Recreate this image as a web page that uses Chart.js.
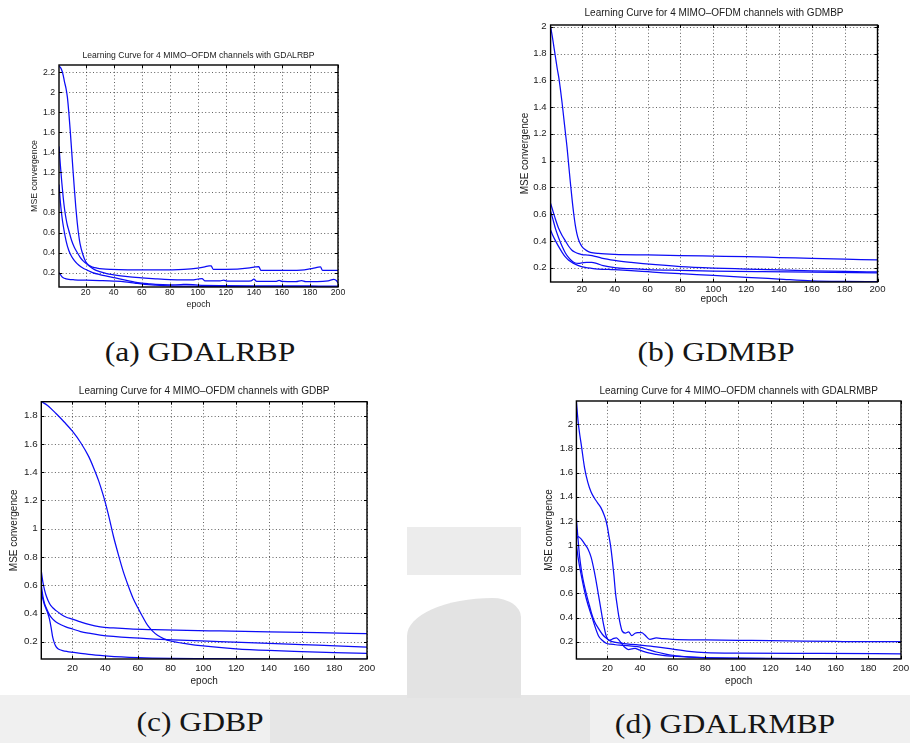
<!DOCTYPE html>
<html><head><meta charset="utf-8">
<script src="https://cdn.jsdelivr.net/npm/chart.js@4/dist/chart.umd.min.js"></script>
<style>
html,body{margin:0;padding:0;background:#fff;width:910px;height:743px;overflow:hidden;position:relative}
canvas.c{position:absolute;display:block}
.cap{position:absolute;font-family:"Liberation Serif","Times New Roman",serif;color:#151515;white-space:nowrap;font-size:27px;line-height:1;transform:translate(-50%,-50%) scaleX(1.17)}
.wm{position:absolute}
</style></head><body>
<div class="wm" style="left:0;top:695px;width:910px;height:48px;background:#f0f0f0"></div>
<div class="wm" style="left:270px;top:695px;width:320px;height:48px;background:#e6e6e6"></div>
<div class="wm" style="left:407px;top:527px;width:114px;height:48px;background:#ececec"></div>
<div class="wm" style="left:407px;top:598px;width:114px;height:100px;background:#e3e3e3;border-top-left-radius:90px 40px;border-top-right-radius:30px 20px"></div>
<canvas class="c" id="ca"></canvas>
<canvas class="c" id="cb"></canvas>
<canvas class="c" id="cc"></canvas>
<canvas class="c" id="cd"></canvas>
<div class="cap" style="left:200px;top:352px">(a) GDALRBP</div>
<div class="cap" style="left:716px;top:352px">(b) GDMBP</div>
<div class="cap" style="left:200px;top:722px">(c) GDBP</div>
<div class="cap" style="left:725px;top:724px">(d) GDALRMBP</div>
<script>
// ---------- data ----------
const xTickLabels = [20, 40, 60, 80, 100, 120, 140, 160, 180, 200];
const aYTicks = [0.2, 0.4, 0.6, 0.8, 1, 1.2, 1.4, 1.6, 1.8, 2, 2.2];
const bYTicks = [0.2, 0.4, 0.6, 0.8, 1, 1.2, 1.4, 1.6, 1.8, 2];
const cYTicks = [0.2, 0.4, 0.6, 0.8, 1, 1.2, 1.4, 1.6, 1.8];
const dYTicks = [0.2, 0.4, 0.6, 0.8, 1, 1.2, 1.4, 1.6, 1.8, 2];
const aYRange = [0.056, 2.273];
const bYRange = [0.093, 2.013];
const cYRange = [0.0775, 1.899];
const dYRange = [0.057, 2.193];
const epochRange = [1, 200];

const aTitle = 'Learning Curve for 4 MIMO\u2013OFDM channels with GDALRBP';
const bTitle = 'Learning Curve for 4 MIMO\u2013OFDM channels with GDMBP';
const cTitle = 'Learning Curve for 4 MIMO\u2013OFDM channels with GDBP';
const dTitle = 'Learning Curve for 4 MIMO\u2013OFDM channels with GDALRMBP';
const xAxisTitle = 'epoch';
const yAxisTitle = 'MSE convergence';

// (a) GDALRBP
const aEp1 = [1,2,3,4,5,6,7,8,9,10,11,12,13,14,15,16,18,20,22,25,28,32,38,50,70,90,100,105,108,109.5,111,120,130,137,141,143.5,145,160,176,182,186,187.5,189,200];
const aMse1 = [2.26,2.25,2.22,2.17,2.1,2.04,1.95,1.8,1.62,1.42,1.22,1.03,0.85,0.7,0.58,0.49,0.38,0.31,0.275,0.255,0.245,0.237,0.232,0.228,0.227,0.232,0.245,0.258,0.268,0.266,0.233,0.233,0.236,0.246,0.256,0.26,0.221,0.222,0.228,0.242,0.254,0.256,0.221,0.223];
const aEp2 = [1,2,3,4,5,6,7,8,10,12,14,16,18,20,23,26,30,35,40,50,60,70,80,90,97,101,103,105,110,116,118.5,121,130,138,140,142,150,156,158,160,170,174,177,185,193,197,199,200];
const aMse2 = [1.46,1.27,1.1,0.95,0.83,0.74,0.67,0.62,0.52,0.45,0.4,0.355,0.32,0.295,0.26,0.232,0.21,0.19,0.178,0.16,0.148,0.138,0.13,0.127,0.128,0.138,0.14,0.118,0.116,0.117,0.125,0.115,0.115,0.118,0.135,0.112,0.112,0.113,0.122,0.112,0.11,0.12,0.11,0.11,0.118,0.132,0.118,0.095];
const aEp3 = [1,2,3,4,6,8,10,12,15,18,21,25,30,35,40,45,50,55,60,65,70,80,88,92,100,120,150,180,200];
const aMse3 = [1.08,0.9,0.77,0.67,0.52,0.42,0.36,0.32,0.275,0.245,0.225,0.2,0.18,0.165,0.15,0.135,0.12,0.105,0.095,0.088,0.082,0.078,0.08,0.083,0.075,0.07,0.068,0.066,0.065];
const aEp4 = [1,2,3,4,6,8,12,20,30,40,48,55,62,70,80,100,130,160,200];
const aMse4 = [0.2,0.18,0.16,0.148,0.138,0.132,0.128,0.124,0.12,0.115,0.108,0.095,0.083,0.075,0.068,0.063,0.06,0.059,0.058];

// (b) GDMBP
const bEp1 = [1,2,3,4,5,6,7,8,9,10,11,12,13,14,15,16,17,18,19,20,22,24,27,30,40,60,80,100,120,140,160,180,200];
const bMse1 = [2.0,1.93,1.85,1.77,1.69,1.62,1.53,1.43,1.32,1.21,1.1,0.97,0.84,0.72,0.61,0.52,0.455,0.41,0.38,0.36,0.335,0.32,0.31,0.306,0.3,0.295,0.29,0.286,0.282,0.276,0.27,0.264,0.258];
const bEp2 = [1,2,4,6,8,10,12,14,16,18,20,24,28,32,40,50,65,80,100,120,140,160,180,200];
const bMse2 = [0.68,0.64,0.56,0.49,0.44,0.4,0.36,0.33,0.315,0.305,0.298,0.293,0.285,0.272,0.255,0.24,0.222,0.208,0.197,0.19,0.183,0.177,0.172,0.168];
const bEp3 = [1,2,4,6,8,10,12,14,16,18,20,23,26,29,33,40,50,60,80,100,130,160,200];
const bMse3 = [0.62,0.58,0.49,0.42,0.36,0.31,0.275,0.25,0.235,0.232,0.235,0.24,0.24,0.232,0.215,0.2,0.192,0.186,0.18,0.175,0.17,0.166,0.162];
const bEp4 = [1,2,4,6,8,10,12,15,18,22,26,30,40,50,60,70,80,100,120,140,160,180,200];
const bMse4 = [0.48,0.45,0.4,0.355,0.315,0.28,0.255,0.232,0.215,0.202,0.195,0.19,0.185,0.178,0.17,0.162,0.155,0.142,0.128,0.115,0.102,0.097,0.095];

// (c) GDBP
const cEp1 = [1,5,10,15,20,25,30,33,36,39,42,45,48,51,54,57,60,63,66,69,72,76,80,90,100,120,140,160,180,200];
const cMse1 = [1.9,1.87,1.815,1.755,1.69,1.61,1.51,1.43,1.34,1.23,1.1,0.95,0.82,0.7,0.6,0.51,0.44,0.375,0.315,0.275,0.245,0.22,0.205,0.185,0.17,0.15,0.138,0.13,0.123,0.117];
const cEp2 = [1,2,3,4,6,8,10,13,16,20,25,30,37,45,55,70,90,110,140,170,200];
const cMse2 = [0.7,0.62,0.565,0.525,0.47,0.44,0.42,0.395,0.375,0.36,0.34,0.322,0.305,0.297,0.29,0.285,0.28,0.276,0.27,0.264,0.257];
const cEp3 = [1,2,3,4,6,8,10,13,16,20,25,30,37,45,55,70,90,110,140,170,200];
const cMse3 = [0.6,0.52,0.47,0.44,0.39,0.36,0.34,0.32,0.305,0.29,0.272,0.26,0.247,0.237,0.228,0.219,0.21,0.2,0.188,0.175,0.162];
const cEp4 = [1,2,3,4,5,6,7,8,9,10,11,12,14,17,20,25,30,40,50,60,80,100,130,160,200];
const cMse4 = [0.55,0.5,0.46,0.43,0.4,0.36,0.3,0.23,0.19,0.165,0.152,0.145,0.137,0.13,0.125,0.117,0.11,0.1,0.092,0.087,0.082,0.08,0.078,0.077,0.077];

// (d) GDALRMBP
const dEp1 = [1,2,3,4,6,8,10,12,14,16,18,19,20,21,22,23,24,25,26,27,28,29,31,33,35,37,39,41,43,46,50,54,60,80,100,120,140,160,180,200];
const dMse1 = [2.19,2.03,1.92,1.83,1.64,1.52,1.44,1.39,1.35,1.31,1.25,1.21,1.15,1.07,0.99,0.88,0.75,0.6,0.5,0.41,0.34,0.29,0.272,0.282,0.25,0.27,0.275,0.276,0.255,0.22,0.232,0.225,0.22,0.215,0.212,0.21,0.205,0.202,0.2,0.2];
const dEp2 = [1,2,4,6,8,10,12,14,16,17,18,19,20,21,22,24,25.5,27,29,31,33,35,37,39,42,46,50,55,60,70,80,100,140,200];
const dMse2 = [1.05,1.07,1.05,1.01,0.97,0.9,0.78,0.63,0.47,0.39,0.32,0.26,0.225,0.21,0.215,0.228,0.232,0.215,0.18,0.15,0.135,0.14,0.145,0.135,0.12,0.105,0.095,0.085,0.08,0.072,0.067,0.062,0.058,0.056];
const dEp3 = [1,2,3,4,5,7,9,10.4,12,14.5,17,19.6,22,25,30,35,40,50,60,70,80,100,150,200];
const dMse3 = [1.22,1.05,0.9,0.8,0.72,0.6,0.5,0.43,0.37,0.31,0.26,0.226,0.205,0.195,0.185,0.178,0.172,0.158,0.138,0.12,0.11,0.105,0.103,0.1];
const dEp4 = [1,2,4,7,10.4,14.5,17,19.6,22,25,30,35,40,45,50,55,60,70,80,100,140,200];
const dMse4 = [1.01,0.9,0.75,0.56,0.41,0.25,0.21,0.185,0.18,0.175,0.17,0.163,0.155,0.135,0.115,0.1,0.088,0.075,0.068,0.064,0.06,0.057];

// ---------- drawing ----------
const FONT = '"Liberation Sans", Arial, Helvetica, sans-serif';
const LINE = 'rgb(12,12,246)';

// dotted MATLAB-style grid, drawn from the library's scales
const gridPlugin = {
  id: 'dotgrid',
  beforeDatasetsDraw(chart) {
    const {ctx, chartArea: a, scales: {x, y}} = chart;
    ctx.save();
    ctx.strokeStyle = 'rgba(0,0,0,0.62)';
    ctx.lineWidth = 1;
    ctx.setLineDash([1, 2.4]);
    ctx.beginPath();
    x.ticks.forEach(t => {
      const p = Math.round(x.getPixelForValue(t.value)) + 0.5;
      ctx.moveTo(p, a.bottom); ctx.lineTo(p, a.top);
    });
    y.ticks.forEach(t => {
      const p = Math.round(y.getPixelForValue(t.value)) + 0.5;
      ctx.moveTo(a.left, p); ctx.lineTo(a.right, p);
    });
    ctx.stroke();
    ctx.restore();
  }
};

const framePlugin = {
  id: 'frame',
  afterDraw(chart) {
    const {ctx, chartArea: a, scales: {x, y}} = chart;
    ctx.save();
    ctx.strokeStyle = '#000';
    ctx.lineWidth = 1;
    ctx.beginPath();
    const tl = 3;
    x.ticks.forEach(t => {
      const p = Math.round(x.getPixelForValue(t.value)) + 0.5;
      ctx.moveTo(p, a.bottom); ctx.lineTo(p, a.bottom - tl);
      ctx.moveTo(p, a.top); ctx.lineTo(p, a.top + tl);
    });
    y.ticks.forEach(t => {
      const p = Math.round(y.getPixelForValue(t.value)) + 0.5;
      ctx.moveTo(a.left, p); ctx.lineTo(a.left + tl, p);
      ctx.moveTo(a.right, p); ctx.lineTo(a.right - tl, p);
    });
    ctx.stroke();
    ctx.lineWidth = 1.4;
    ctx.strokeRect(a.left, a.top, a.right - a.left, a.bottom - a.top);
    ctx.restore();
  }
};

function makeChart(id, g, eps, mses, yTicks, yRange, title, fs) {
  const cv = document.getElementById(id);
  const lhT = fs.title * 1.2, lhA = fs.axis * 1.2, lhK = fs.tick * 1.2;
  const cl = Math.floor(g.yTitleX - lhA / 2);
  const ct = Math.floor(g.titleY - lhT / 2);
  const W = Math.ceil(g.R + 18 - cl);
  const H = Math.ceil(g.xTitleY + lhA / 2) - ct;
  cv.style.left = cl + 'px'; cv.style.top = ct + 'px';
  cv.width = W; cv.height = H;
  cv.style.width = W + 'px'; cv.style.height = H + 'px';
  const wy = g.L - cl;
  const padR = W - (g.R - cl);
  const tPadTop = (g.titleY - lhT / 2) - ct;
  const tPadBot = (g.T - ct) - lhT - tPadTop;
  const hx = H - (g.B - ct);
  const xTitlePadB = H - (g.xTitleY - ct) - lhA / 2;
  const yTitlePadT = (g.yTitleX - cl) - lhA / 2;
  const xTickPad = g.xLabelY - g.B - lhK / 2;
  const yTickPad = g.L - g.yLabelRight;
  const tickFont = {family: FONT, size: fs.tick, lineHeight: 1.2};
  const axFont = {family: FONT, size: fs.axis, lineHeight: 1.2};
  const datasets = eps.map((ep, k) => ({
    data: ep.map((e, i) => ({x: e, y: mses[k][i]})),
    borderColor: LINE, borderWidth: 1.25, pointRadius: 0, fill: false,
    cubicInterpolationMode: 'monotone'
  }));
  return new Chart(cv, {
    type: 'line',
    data: {datasets},
    plugins: [gridPlugin, framePlugin],
    options: {
      responsive: false, animation: false, devicePixelRatio: 1,
      layout: {padding: {left: 0, top: 0, right: padR, bottom: 0}},
      plugins: {
        legend: {display: false}, tooltip: {enabled: false},
        title: {display: true, text: title, fullSize: false, color: '#1a1a1a',
          font: {family: FONT, size: fs.title, weight: 'normal', lineHeight: 1.2},
          padding: {top: tPadTop, bottom: tPadBot}}
      },
      scales: {
        x: {
          type: 'linear', min: epochRange[0], max: epochRange[1],
          afterBuildTicks: s => { s.ticks = xTickLabels.map(v => ({value: v})); },
          afterFit: s => { s.height = hx; },
          grid: {display: false, drawTicks: false},
          border: {display: false},
          ticks: {padding: xTickPad, font: tickFont, color: '#1a1a1a', maxRotation: 0, autoSkip: false,
            callback: v => String(v)},
          title: {display: true, text: xAxisTitle, font: axFont, color: '#1a1a1a', padding: {top: 0, bottom: xTitlePadB}}
        },
        y: {
          type: 'linear', min: yRange[0], max: yRange[1],
          afterBuildTicks: s => { s.ticks = yTicks.map(v => ({value: v})); },
          afterFit: s => { s.width = wy; },
          grid: {display: false, drawTicks: false},
          border: {display: false},
          ticks: {padding: yTickPad, font: tickFont, color: '#1a1a1a', autoSkip: false,
            callback: v => String(Math.round(v * 10) / 10)},
          title: {display: true, text: yAxisTitle, font: axFont, color: '#1a1a1a', padding: {top: yTitlePadT, bottom: 0}}
        }
      }
    }
  });
}

makeChart('ca', {L: 59, R: 338, T: 65, B: 287, titleY: 55.7, yTitleX: 35, yLabelRight: 55, xLabelY: 292.3, xTitleY: 305},
  [aEp1, aEp2, aEp3, aEp4], [aMse1, aMse2, aMse3, aMse4], aYTicks, aYRange, aTitle, {title: 8.6, axis: 8.8, tick: 8.7});
makeChart('cb', {L: 550.6, R: 877.5, T: 25, B: 282, titleY: 13.3, yTitleX: 525, yLabelRight: 546.7, xLabelY: 289.3, xTitleY: 299},
  [bEp1, bEp2, bEp3, bEp4], [bMse1, bMse2, bMse3, bMse4], bYTicks, bYRange, bTitle, {title: 10, axis: 10, tick: 9.6});
makeChart('cc', {L: 41.3, R: 367, T: 401.7, B: 659, titleY: 391, yTitleX: 14, yLabelRight: 37.7, xLabelY: 668.7, xTitleY: 681},
  [cEp1, cEp2, cEp3, cEp4], [cMse1, cMse2, cMse3, cMse4], cYTicks, cYRange, cTitle, {title: 10, axis: 10, tick: 9.8});
makeChart('cd', {L: 576.4, R: 901, T: 401, B: 659, titleY: 391.7, yTitleX: 549.3, yLabelRight: 573.3, xLabelY: 668.7, xTitleY: 681},
  [dEp1, dEp2, dEp3, dEp4], [dMse1, dMse2, dMse3, dMse4], dYTicks, dYRange, dTitle, {title: 10, axis: 10, tick: 9.8});
</script>
</body></html>
